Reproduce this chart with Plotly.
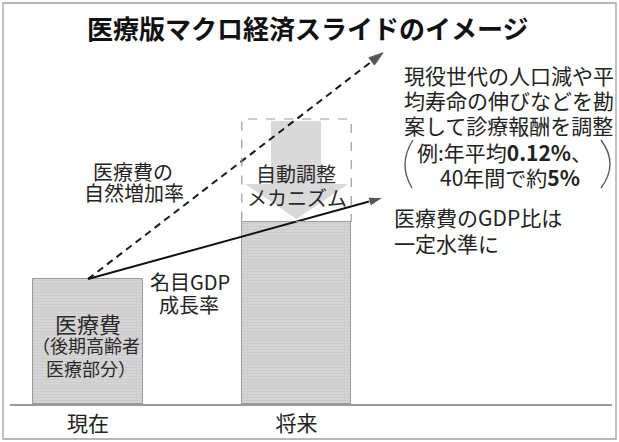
import plotly.graph_objects as go

# ---------------- data ----------------
categories = ["現在", "将来"]
category_pos = [0, 1]
medical_cost = [100, 146]          # bar heights (illustrative index)
natural_growth_level = 228         # top of the dashed box (natural increase)
natural_arrow_x = [0, 1.415]
natural_arrow_y = [100, 281]
gdp_arrow_x = [0, 1.415]
gdp_arrow_y = [100, 165]

FONT = "Noto Sans CJK JP"
W, H = 619, 442
L, R, T, B = 10, 7, 0, 38
X0PX, UNIT_X = 88, 208.5           # pixel of category 0 and px per category
BASE_PX, UNIT_Y = 404, 1.25        # baseline pixel and px per value unit


def X(px):
    return (px - X0PX) / UNIT_X


def Y(py):
    return (BASE_PX - py) / UNIT_Y


fig = go.Figure()

# bars
fig.add_trace(go.Bar(
    x=category_pos, y=medical_cost, width=0.525,
    marker=dict(color="#d3d3d3", line=dict(color="#9a9a9a", width=1),
                pattern=dict(shape="-", fgcolor="#bfbfbf", bgcolor="#d5d5d5",
                             size=3, solidity=0.3)),
    hoverinfo="skip", showlegend=False))

# natural growth (dashed) arrow
fig.add_trace(go.Scatter(
    x=natural_arrow_x, y=natural_arrow_y, mode="lines+markers",
    line=dict(color="#1a1a1a", width=2, dash="7px,5px"),
    marker=dict(symbol="arrow", size=[0, 15], angleref="previous", color="#111"),
    hoverinfo="skip", showlegend=False))

# nominal GDP growth (solid) arrow
fig.add_trace(go.Scatter(
    x=gdp_arrow_x, y=gdp_arrow_y, mode="lines+markers",
    line=dict(color="#111", width=2),
    marker=dict(symbol="arrow", size=[0, 15], angleref="previous", color="#111"),
    hoverinfo="skip", showlegend=False))

shapes = []
# dashed box over future bar
half = 0.525 / 2
shapes.append(dict(type="rect", xref="x", yref="y",
                   x0=category_pos[1] - half, x1=category_pos[1] + half,
                   y0=medical_cost[1], y1=natural_growth_level,
                   line=dict(color="#9a9a9a", width=1.2, dash="dash"),
                   fillcolor="rgba(0,0,0,0)", layer="above"))
# gray down arrow (automatic adjustment)
pts = [(271, 121), (321, 121), (321, 184), (348, 184), (296.5, 219),
       (245, 184), (271, 184)]
path = "M " + " L ".join(f"{X(a):.4f},{Y(b):.4f}" for a, b in pts) + " Z"
shapes.append(dict(type="path", xref="x", yref="y", path=path,
                   fillcolor="#d9d9d9", line=dict(width=0), layer="below"))
# big parentheses
lp = f"M {X(413):.4f},{Y(140):.4f} Q {X(397.5):.4f},{Y(164):.4f} {X(412):.4f},{Y(188):.4f}"
rp = f"M {X(601):.4f},{Y(140):.4f} Q {X(619):.4f},{Y(164):.4f} {X(601):.4f},{Y(188):.4f}"
for p in (lp, rp):
    shapes.append(dict(type="path", xref="x", yref="y", path=p,
                       line=dict(color="#555", width=1.3)))
# outer frame (paper coords: x relative to plot area, y measured from its bottom)
pw, ph = W - L - R, H - T - B
shapes.append(dict(type="rect", xref="paper", yref="paper",
                   x0=(3 - L) / pw, x1=(616 - L) / pw,
                   y0=(T + ph - 439) / ph, y1=(T + ph - 3) / ph,
                   line=dict(color="#a0a0a0", width=1.3),
                   fillcolor="rgba(0,0,0,0)"))


def txt(s, px, py, size, anchor="center", color="#222", weight="normal"):
    return dict(text=s, x=X(px), y=Y(py), xref="x", yref="y", showarrow=False,
                xanchor=anchor, yanchor="middle",
                font=dict(size=size, color=color, family=FONT, weight=weight))


ann = [
    txt("医療版マクロ経済スライドのイメージ", 307, 27, 26, color="#111", weight="bold"),
    txt("医療費の", 133, 171, 20),
    txt("自然増加率", 134, 192, 20),
    txt("名目GDP", 190, 281, 20),
    txt("成長率", 189, 304, 20),
    txt("医療費", 88, 323, 22, color="#2a2a2a"),
    txt("（後期高齢者", 86, 345, 18, color="#2a2a2a"),
    txt("医療部分）", 91, 368, 18, color="#2a2a2a"),
    txt("自動調整", 296, 173, 20, color="#2a2a2a"),
    txt("メカニズム", 297, 197, 20, color="#2a2a2a"),
    txt("現役世代の人口減や平", 402, 75, 21, anchor="left"),
    txt("均寿命の伸びなどを勘", 402, 100, 21, anchor="left"),
    txt("案して診療報酬を調整", 402, 125, 21, anchor="left"),
    txt("例:年平均<b>0.12%</b>、", 415, 152, 21, anchor="left"),
    txt("40年間で約<b>5%</b>", 438, 177, 21, anchor="left"),
    txt("医療費のGDP比は", 392, 217, 21, anchor="left"),
    txt("一定水準に", 392, 243, 21, anchor="left"),
]

fig.update_layout(
    width=W, height=H, margin=dict(l=L, r=R, t=T, b=B),
    paper_bgcolor="white", plot_bgcolor="white",
    shapes=shapes, annotations=ann, bargap=0,
    xaxis=dict(range=[X(L), X(W - R)], tickvals=category_pos, ticktext=categories,
               showgrid=False, zeroline=False, showline=True, linecolor="#999",
               linewidth=1.5, ticks="", ticklabelstandoff=0,
               tickfont=dict(family=FONT, size=21, color="#222"), fixedrange=True),
    yaxis=dict(range=[Y(H - B), Y(T)], visible=False, fixedrange=True),
    font=dict(family=FONT),
)

fig.write_html("out.html", config={"displayModeBar": False},
               post_script="document.body.style.margin='0';document.body.style.overflow='hidden';")
